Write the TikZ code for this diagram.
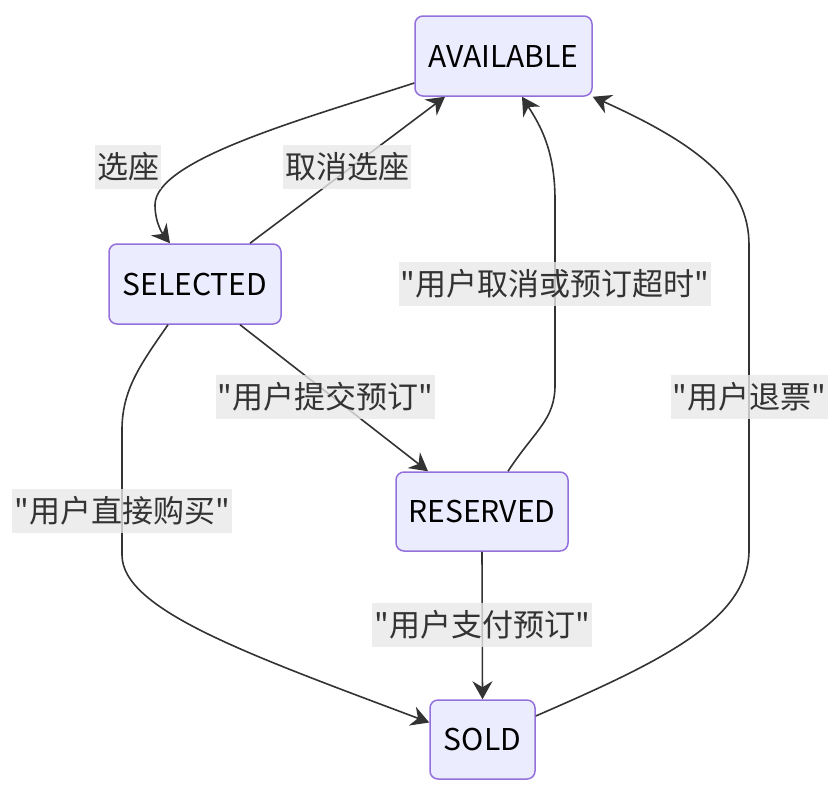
\documentclass[tikz,border=0pt]{standalone}
\usepackage{fontspec}
\setmainfont{Noto Sans CJK SC}
\newfontfamily\cjk{Noto Sans CJK SC}
\usetikzlibrary{arrows.meta}
\definecolor{nodefill}{HTML}{ECECFF}
\definecolor{nodeedge}{HTML}{9370DB}
\definecolor{edgecol}{HTML}{333333}
\definecolor{lblfill}{HTML}{E8E8E8}
\tikzset{
  state/.style={draw=nodeedge, fill=nodefill, line width=1.5pt, rounded corners=8pt,
    minimum height=80pt, inner sep=0pt, text=black, font=\cjk\fontsize{30}{36}\selectfont},
  edgelbl/.style={fill=lblfill, fill opacity=0.8, text opacity=1, text=edgecol,
    inner xsep=2pt, inner ysep=0pt, minimum height=44pt, font=\cjk\fontsize{31}{36}\selectfont},
  trans/.style={draw=edgecol, line width=1.6pt, -{Stealth[length=18pt,width=20pt,inset=6pt]}}
}
\begin{document}
\begin{tikzpicture}[x=1pt,y=-1pt]
\path[use as bounding box] (0,0) rectangle (840,796);
% states
\node[state, minimum width=177pt] (A) at (503.5,56) {AVAILABLE};
\node[state, minimum width=172pt] (S) at (195,284) {SELECTED};
\node[state, minimum width=172pt, minimum height=79pt] (R) at (482,511.5) {RESERVED};
\node[state, minimum width=105pt, minimum height=79pt] (D) at (482.5,739.5) {SOLD};
% transitions
\draw[trans] ([yshift=-27pt]A.west) .. controls (300,120) and (155,160) .. (155,205)
  .. controls (155,225) and (165,237) .. ([xshift=-25pt]S.north);
\draw[trans] ([xshift=55pt]S.north) -- ([xshift=-58.5pt]A.south);
\draw[trans] ([xshift=45pt]S.south) -- ([xshift=-54pt]R.north);
\draw[trans] ([xshift=26pt]R.north) .. controls (535,430) and (555,420) .. (555,385)
  -- (555,200) .. controls (555,150) and (540,125) .. ([xshift=18.5pt]A.south);
\draw[trans] ([xshift=-27pt]S.south) .. controls (140,365) and (122,390) .. (122,430)
  -- (122,555) .. controls (122,610) and (250,655) .. ([yshift=17pt]D.west);
\draw[trans] (R.south) -- (D.north);
\draw[trans] ([yshift=23.5pt]D.east) .. controls (660,662) and (749,620) .. (749,550)
  -- (749,245) .. controls (749,185) and (700,145) .. (A.south east);
% labels
\node[edgelbl] (l1) at (128,167) {选座};
\node[edgelbl] (l2) at (347,167) {取消选座};
\node[edgelbl] (l3) at (555,284) {"用户取消或预订超时"};
\node[edgelbl] (l4) at (325.5,397) {"用户提交预订"};
\node[edgelbl] (l5) at (749.5,397) {"用户退票"};
\node[edgelbl] (l6) at (122,511) {"用户直接购买"};
\node[edgelbl] (l7) at (482,625) {"用户支付预订"};
\end{tikzpicture}
\end{document}
